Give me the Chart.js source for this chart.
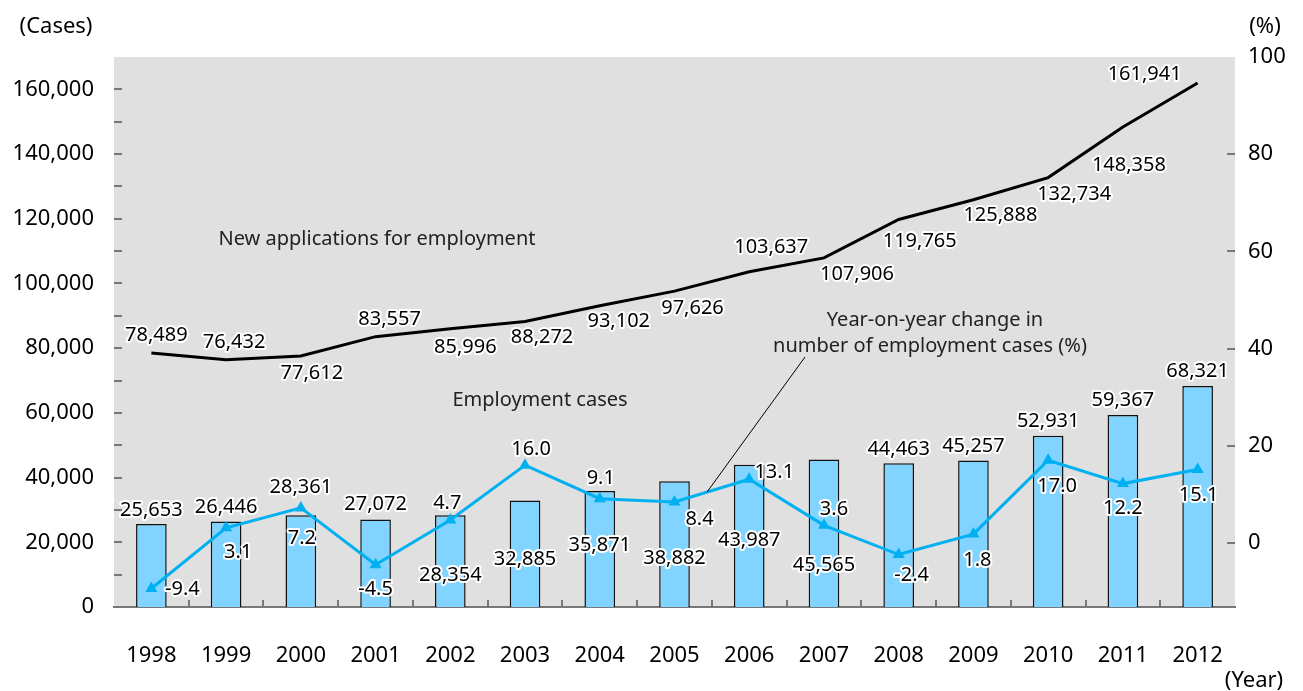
<!DOCTYPE html>
<html>
<head>
<meta charset="utf-8">
<script src="https://cdn.jsdelivr.net/npm/chart.js@4.4.0/dist/chart.umd.min.js"></script>
<style>
  html, body { margin: 0; padding: 0; background: #fff; }
</style>
</head>
<body>
<canvas id="grafico" width="1303" height="691"></canvas>
<script>
const years = ['1998', '1999', '2000', '2001', '2002', '2003', '2004', '2005',
               '2006', '2007', '2008', '2009', '2010', '2011', '2012'];
const employmentCases = [25653, 26446, 28361, 27072, 28354, 32885, 35871, 38882,
                         43987, 45565, 44463, 45257, 52931, 59367, 68321];
const newApplications = [78489, 76432, 77612, 83557, 85996, 88272, 93102, 97626,
                         103637, 107906, 119765, 125888, 132734, 148358, 161941];
const yoyChange = [-9.4, 3.1, 7.2, -4.5, 4.7, 16.0, 9.1, 8.4,
                   13.1, 3.6, -2.4, 1.8, 17.0, 12.2, 15.1];
const leftTickLabels = [0, 20000, 40000, 60000, 80000, 100000, 120000, 140000, 160000];
const rightTickLabels = [0, 20, 40, 60, 80, 100];

// label placement (pixels from the mark)
const appLabelOffset = [[5, -18], [8, -17], [11, 17], [14, -17], [15, 19], [17, 16], [19, 16], [18, 17],
                        [22, -24], [33, 16], [21, 22], [27, 16], [26, 17], [6, 38], [-53, -9]];
const caseLabelOffset = [-14, -14, -28, -15, 60, 59, 54, 77, 76, 106, -14, -14, -14, -15, -15];
const yoyLabelOffset = [[31, 1], [12, 24], [1, 30], [0, 25], [-3, -17], [6, -16], [1, -20], [25, 17],
                        [25, -7], [10, -16], [13, 21], [4, 26], [9, 26], [0, 25], [1, 26]];

const FONT = '"Noto Sans", "DejaVu Sans", sans-serif';
const ctx = document.getElementById('grafico');

function haloText(c, text, x, y) {
    c.lineJoin = 'round';
    c.lineWidth = 4;
    c.strokeStyle = '#fff';
    c.strokeText(text, x, y);
    c.fillStyle = '#000';
    c.fillText(text, x, y);
}

const decorPlugin = {
    id: 'decor',
    beforeDraw(chart) {
        const a = chart.chartArea;
        const c = chart.ctx;
        c.save();
        c.fillStyle = '#e0e0e0';
        c.fillRect(a.left, a.top, a.right - a.left, a.bottom - a.top);
        c.restore();
    },
    afterDatasetsDraw(chart) {
        const a = chart.chartArea;
        const c = chart.ctx;
        const x = chart.scales.x, y = chart.scales.y, y1 = chart.scales.y1;
        c.save();
        // tick marks inside the plot
        c.strokeStyle = '#777';
        c.lineWidth = 2;
        c.beginPath();
        y.ticks.forEach(t => {
            const py = Math.round(y.getPixelForValue(t.value));
            if (py > a.top + 2 && py < a.bottom - 2) {
                c.moveTo(a.left, py); c.lineTo(a.left + 8, py);
            }
        });
        rightTickLabels.forEach(v => {
            const py = Math.round(y1.getPixelForValue(v));
            if (py > a.top + 2) {
                c.moveTo(a.right - 8, py); c.lineTo(a.right, py);
            }
        });
        for (let i = 1; i < years.length; i++) {
            const px = Math.round((x.getPixelForTick(i - 1) + x.getPixelForTick(i)) / 2);
            c.moveTo(px, a.bottom); c.lineTo(px, a.bottom - 7);
        }
        c.stroke();

        // leader line for the percentage series
        const yoyMeta = chart.getDatasetMeta(2).data;
        const p0 = yoyMeta[7], p1 = yoyMeta[8];
        const f = 0.435;
        c.strokeStyle = '#000';
        c.lineWidth = 1;
        c.beginPath();
        c.moveTo(805, 357);
        c.lineTo(p0.x + (p1.x - p0.x) * f, p0.y + (p1.y - p0.y) * f);
        c.stroke();

        // series annotations
        c.font = '20px ' + FONT;
        c.fillStyle = '#222';
        c.textAlign = 'center';
        c.textBaseline = 'middle';
        c.fillText('New applications for employment', 377, 239);
        c.fillText('Employment cases', 540, 400);
        c.fillText('Year-on-year change in', 935, 320);
        c.fillText('number of employment cases (%)', 930, 346);

        // data labels
        c.font = '20px ' + FONT;
        const bars = chart.getDatasetMeta(0).data;
        bars.forEach((el, i) => {
            haloText(c, employmentCases[i].toLocaleString('en-US'), el.x, el.y + caseLabelOffset[i]);
        });
        const apps = chart.getDatasetMeta(1).data;
        apps.forEach((el, i) => {
            haloText(c, newApplications[i].toLocaleString('en-US'),
                     el.x + appLabelOffset[i][0], el.y + appLabelOffset[i][1]);
        });
        yoyMeta.forEach((el, i) => {
            haloText(c, yoyChange[i].toFixed(1),
                     el.x + yoyLabelOffset[i][0], el.y + yoyLabelOffset[i][1]);
        });

        // axis unit titles
        c.font = '22px ' + FONT;
        c.fillStyle = '#000';
        c.fillText('(Cases)', 56, 27);
        c.fillText('(%)', 1265, 27);
        c.fillText('(Year)', 1254, 681);
        c.restore();
    }
};

const tickFont = { family: FONT, size: 22 };

const myChart = new Chart(ctx, {
    data: {
        labels: years,
        datasets: [{
            type: 'bar',
            label: 'Employment cases',
            data: employmentCases,
            yAxisID: 'y',
            backgroundColor: '#80d4ff',
            borderColor: '#111',
            borderWidth: 1.5,
            categoryPercentage: 1,
            barPercentage: 0.41,
            order: 3
        }, {
            type: 'line',
            label: 'New applications for employment',
            data: newApplications,
            yAxisID: 'y',
            borderColor: '#000',
            borderWidth: 3,
            pointRadius: 0,
            tension: 0,
            order: 2
        }, {
            type: 'line',
            label: 'Year-on-year change in number of employment cases (%)',
            data: yoyChange,
            yAxisID: 'y1',
            borderColor: '#00b0f0',
            backgroundColor: '#00b0f0',
            borderWidth: 3,
            pointStyle: 'triangle',
            pointRadius: 7,
            pointBorderWidth: 0,
            pointBackgroundColor: '#00b0f0',
            tension: 0,
            order: 1
        }]
    },
    options: {
        responsive: false,
        animation: false,
        layout: { padding: { top: 57, left: 0, right: 0, bottom: 0 } },
        plugins: {
            legend: { display: false },
            tooltip: { enabled: false }
        },
        scales: {
            x: {
                offset: true,
                grid: { display: false, drawTicks: false },
                border: { display: true, color: '#777', width: 2 },
                ticks: { font: tickFont, color: '#000', padding: 36, maxRotation: 0, autoSkip: false },
                afterFit(s) { s.height = 84; }
            },
            y: {
                position: 'left',
                min: 0,
                max: 170000,
                grid: { display: false, drawTicks: false },
                border: { display: false },
                ticks: {
                    stepSize: 10000,
                    autoSkip: false,
                    font: tickFont,
                    color: '#000',
                    padding: 20,
                    callback: v => leftTickLabels.includes(v) ? v.toLocaleString('en-US') : ''
                },
                afterFit(s) { s.width = 114; }
            },
            y1: {
                position: 'right',
                min: -13.2,
                max: 100,
                grid: { display: false, drawTicks: false },
                border: { display: false },
                afterBuildTicks(s) { s.ticks = rightTickLabels.map(v => ({ value: v })); },
                ticks: { font: tickFont, color: '#000', padding: 13, autoSkip: false },
                afterFit(s) { s.width = 68; }
            }
        }
    },
    plugins: [decorPlugin]
});
</script>
</body>
</html>
